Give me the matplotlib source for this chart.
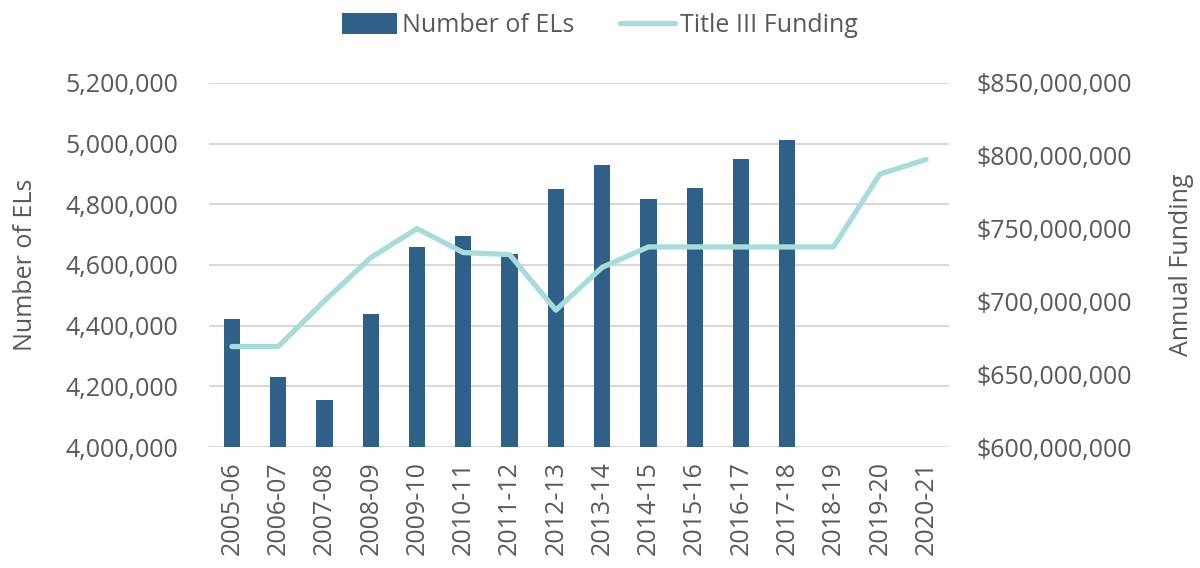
import matplotlib.pyplot as plt
from matplotlib.ticker import FuncFormatter

plt.rcParams['font.family'] = ['Open Sans', 'DejaVu Sans']

years = ['2005-06', '2006-07', '2007-08', '2008-09', '2009-10', '2010-11',
         '2011-12', '2012-13', '2013-14', '2014-15', '2015-16', '2016-17',
         '2017-18', '2018-19', '2019-20', '2020-21']

# number of English learners (no data after 2017-18)
els = [4423000, 4231000, 4154000, 4440000, 4659000, 4696000, 4635000,
       4852000, 4931000, 4817000, 4855000, 4950000, 5012000]

# Title III funding, dollars
funding = [669007000, 669007000, 700395000, 730000000, 750000000, 733530000,
           732144000, 694000000, 723400000, 737400000, 737400000, 737400000,
           737400000, 737400000, 787400000, 797400000]

bar_color = '#2E6089'
line_color = '#A8DCDB'
text_color = '#595959'
grid_color = '#D9D9D9'

fig = plt.figure(figsize=(12, 5.68), dpi=100)
ax = fig.add_axes([0.174, 0.213, 0.617, 0.641])
ax2 = ax.twinx()

x = list(range(len(years)))
ax.bar(x[:len(els)], els, width=0.35, color=bar_color, label='Number of ELs', zorder=2)
ax2.plot(x, funding, color=line_color, linewidth=3.8, solid_capstyle='round',
         label='Title III Funding', zorder=3)

ax.set_xlim(-0.5, len(years) - 0.5)
ax.set_ylim(4000000, 5200000)
ax.set_yticks(range(4000000, 5200001, 200000))
ax2.set_ylim(600000000, 850000000)
ax2.set_yticks(range(600000000, 850000001, 50000000))

ax.yaxis.set_major_formatter(FuncFormatter(lambda v, p: f'{v:,.0f}'))
ax2.yaxis.set_major_formatter(FuncFormatter(lambda v, p: f'${v:,.0f}'))

ax.set_xticks(x)
ax.set_xticklabels(years, rotation=90)

for a in (ax, ax2):
    for s in a.spines.values():
        s.set_visible(False)
    a.tick_params(length=0, labelsize=18, colors=text_color)
ax.tick_params(axis='y', pad=22)
ax2.tick_params(axis='y', pad=20)
ax.tick_params(axis='x', pad=10)

ax.grid(axis='y', color=grid_color, linewidth=1.5, zorder=0)
ax.set_axisbelow(True)

ax.set_ylabel('Number of ELs', fontsize=18, color=text_color, labelpad=20)
ax2.set_ylabel('Annual Funding', fontsize=18, color=text_color, labelpad=26)

h1, l1 = ax.get_legend_handles_labels()
h2, l2 = ax2.get_legend_handles_labels()
fig.legend(h1 + h2, l1 + l2, loc='upper center', bbox_to_anchor=(0.5, 1.016),
           ncol=2, frameon=False, fontsize=18, labelcolor=text_color,
           handlelength=2.2, handleheight=0.9, handletextpad=0.2, columnspacing=1.8)

fig.savefig('out.png', dpi=100)
